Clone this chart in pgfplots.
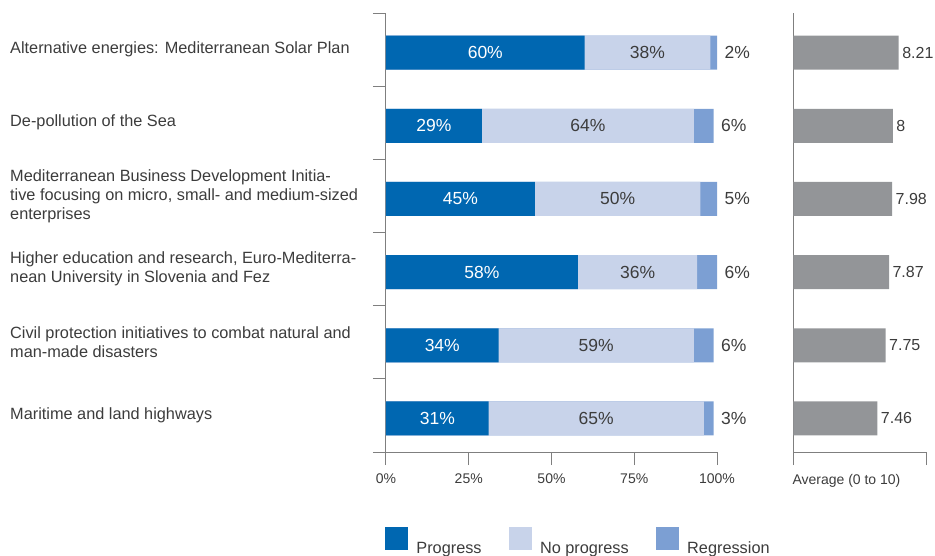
\documentclass[border=0pt]{standalone}
\usepackage{pgfplots}
\usepackage{pgfplotstable}
\pgfplotsset{compat=1.18}
\usepackage{fontspec}
\setmainfont{Liberation Sans}
\definecolor{progress}{HTML}{0067B1}
\definecolor{noprog}{HTML}{C8D3EA}
\definecolor{regress}{HTML}{7C9FD3}
\definecolor{avggray}{HTML}{939598}
\definecolor{txt}{HTML}{3C3C3C}
\definecolor{axisgray}{HTML}{7F7F7F}
\newcommand{\catfont}{\fontsize{16.3}{19}\selectfont}
\newcommand{\barfont}{\fontsize{17.5}{20}\selectfont}
\newcommand{\avgfont}{\fontsize{16}{19}\selectfont}
\newcommand{\tickfont}{\fontsize{14}{16}\selectfont}
\pgfplotstableread{
idx p n r avg
5 60 38 2 8.21
4 29 64 6 8
3 45 50 5 7.98
2 58 36 6 7.87
1 34 59 6 7.75
0 31 65 3 7.46
}\datatable
\begin{document}
\begin{tikzpicture}
\path[use as bounding box] (0pt,0pt) rectangle (935pt,-556pt);
\pgfplotsset{/pgf/number format/assume math mode=true}
\begin{axis}[
  scale only axis, width=331pt, height=439pt,
  at={(386pt,-452pt)}, anchor=south west,
  xmin=0, xmax=100, ymin=-0.5, ymax=5.5,
  axis x line*=bottom, axis y line*=left,
  axis line style={draw=axisgray, line width=1pt, -},
  xtick={0,25,50,75,100}, xticklabels={0\%,25\%,50\%,75\%,100\%},
  ytick={-0.5,0.5,1.5,2.5,3.5,4.5,5.5}, yticklabels={},
  tick align=outside, major tick length=13pt,
  tick style={draw=axisgray, line width=1pt},
  ticklabel style={font=\tickfont, text=txt},
  xticklabel style={yshift=-5pt},
  clip=false,
  legend style={at={(axis description cs:-0.003,-0.1709)}, anchor=north west,
    draw=none, fill=none, inner sep=0pt, outer sep=0pt,
    font=\catfont, text=txt,
    nodes={inner sep=0pt},
    /tikz/every odd column/.append style={column sep=9pt},
    /tikz/every even column/.append style={column sep=27pt}},
  legend columns=3, legend cell align=left,
]
\addplot[xbar, bar width=34pt, bar shift=-3pt, fill=regress, draw=none, forget plot]
  table[x expr=\thisrow{p}+\thisrow{n}+\thisrow{r}, y=idx]{\datatable};
\addplot[xbar, bar width=34pt, bar shift=-3pt, fill=noprog, draw=none, forget plot]
  table[x expr=\thisrow{p}+\thisrow{n}, y=idx]{\datatable};
\addplot[xbar, bar width=34pt, bar shift=-3pt, fill=progress, draw=none, forget plot]
  table[x=p, y=idx]{\datatable};
% labels
\addplot[draw=none, mark=none, forget plot, point meta=explicit,
  nodes near coords={\pgfmathprintnumber{\pgfplotspointmeta}\%},
  nodes near coords style={anchor=center, yshift=-3pt, text=white, font=\barfont}]
  table[x expr=\thisrow{p}/2, y=idx, meta=p]{\datatable};
\addplot[draw=none, mark=none, forget plot, point meta=explicit,
  nodes near coords={\pgfmathprintnumber{\pgfplotspointmeta}\%},
  nodes near coords style={anchor=center, yshift=-3pt, text=txt, font=\barfont}]
  table[x expr=\thisrow{p}+\thisrow{n}/2, y=idx, meta=n]{\datatable};
\addplot[draw=none, mark=none, forget plot, point meta=explicit,
  nodes near coords={\pgfmathprintnumber{\pgfplotspointmeta}\%},
  nodes near coords style={anchor=west, xshift=4pt, yshift=-3pt, text=txt, font=\barfont}]
  table[x expr=\thisrow{p}+\thisrow{n}+\thisrow{r}, y=idx, meta=r]{\datatable};
\addlegendimage{legend image code/.code={\fill[progress] (0pt,-1pt) rectangle (22pt,21pt);}}
\addlegendentry{Progress}
\addlegendimage{legend image code/.code={\fill[noprog] (0pt,-1pt) rectangle (22pt,21pt);}}
\addlegendentry{No progress}
\addlegendimage{legend image code/.code={\fill[regress] (0pt,-1pt) rectangle (22pt,21pt);}}
\addlegendentry{Regression}
% category labels
\begin{scope}[every node/.style={anchor=west, align=left, font=\catfont, text=txt, inner sep=0pt, xshift=-376pt}]
\node at (axis cs:0,5) {Alternative energies: Mediterranean Solar Plan};
\node at (axis cs:0,4) {De-pollution of the Sea};
\node at (axis cs:0,3) {Mediterranean Business Development Initia-\\tive focusing on micro, small- and medium-sized\\enterprises};
\node at (axis cs:0,2) {Higher education and research, Euro-Mediterra-\\nean University in Slovenia and Fez};
\node at (axis cs:0,1) {Civil protection initiatives to combat natural and\\man-made disasters};
\node at (axis cs:0,0) {Maritime and land highways};
\end{scope}
\end{axis}
\begin{axis}[
  scale only axis, width=132.7pt, height=439pt,
  at={(793.3pt,-452pt)}, anchor=south west,
  xmin=0, xmax=4.67, ymin=-0.5, ymax=5.5,
  axis x line*=bottom, axis y line*=left,
  axis line style={draw=axisgray, line width=1pt, -},
  xtick={0,4.67}, xticklabels={}, ytick=\empty,
  tick align=outside, major tick length=13pt,
  tick style={draw=axisgray, line width=1pt},
  clip=false,
]
\addplot[xbar, bar width=34pt, bar shift=-3pt, fill=avggray, draw=none,
  point meta=explicit, nodes near coords,
  nodes near coords style={anchor=west, xshift=0pt, yshift=-3pt, text=txt, font=\avgfont}]
  table[x expr=\thisrow{avg}-4.5, y=idx, meta=avg]{\datatable};
\node[anchor=base west, inner sep=0pt, font=\tickfont, text=txt, yshift=-32pt, xshift=-1pt] at (axis cs:0,-0.5) {Average (0 to 10)};
\end{axis}
\end{tikzpicture}
\end{document}
